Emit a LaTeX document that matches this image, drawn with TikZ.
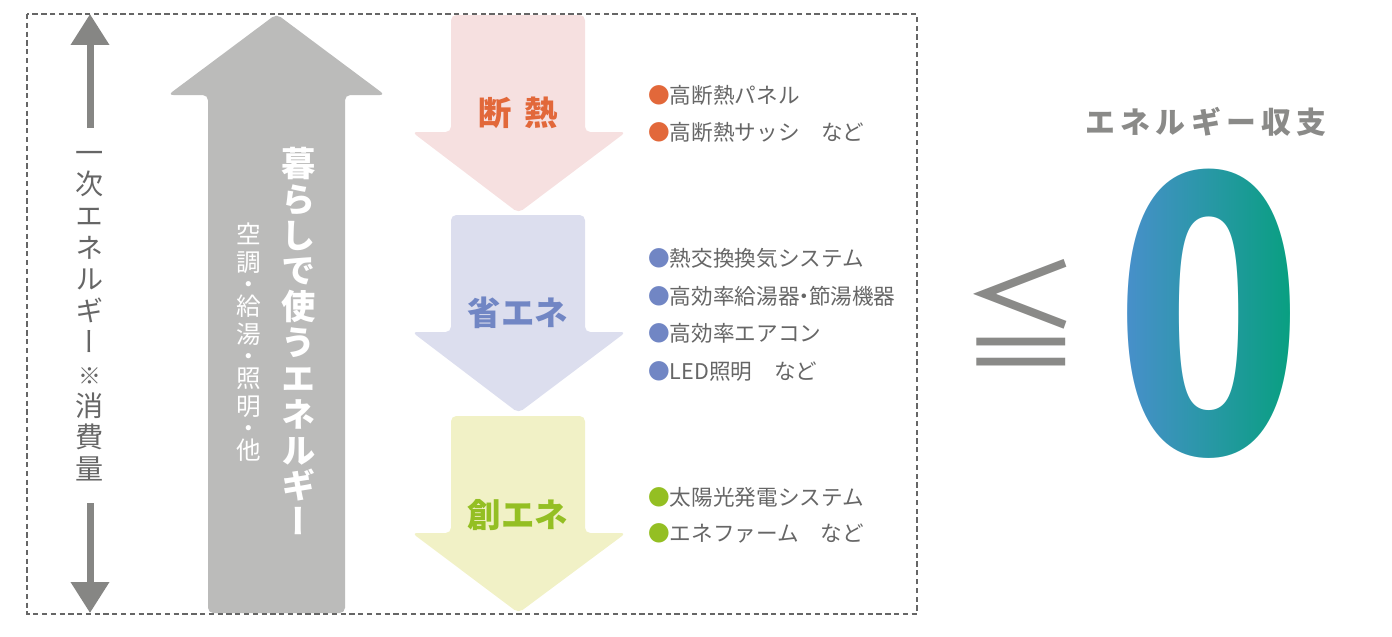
\documentclass[tikz,border=0pt]{standalone}
\usepackage{fontspec}
\setmainfont{Noto Sans CJK JP}
\newfontfamily\jp{Noto Sans CJK JP}
\newfontfamily\jpv[RawFeature=+vert]{Noto Sans CJK JP}
\newfontfamily\jpsp[LetterSpace=18]{Noto Sans CJK JP}
\newfontfamily\zerofont{Fira Sans}
\usetikzlibrary{arrows.meta}
\definecolor{pinkA}{HTML}{F6E0E0}
\definecolor{lavA}{HTML}{DCDEEE}
\definecolor{yelA}{HTML}{F1F1C6}
\definecolor{orT}{HTML}{E2683A}
\definecolor{blT}{HTML}{7186C4}
\definecolor{grT}{HTML}{94BF23}
\definecolor{grayA}{HTML}{BBBBBA}
\definecolor{darkA}{HTML}{868684}
\definecolor{txtgray}{HTML}{666666}
\definecolor{headgray}{HTML}{8A8A88}
\definecolor{zA}{HTML}{4A8FCD}
\definecolor{zB}{HTML}{0A9BC0}
\definecolor{zC}{HTML}{06A07E}
\begin{document}
\begin{tikzpicture}[x=0.02cm,y=-0.02cm,
  downarrow/.style={rounded corners=3pt},
  bigarr/.style={draw=darkA,line width=0.14cm,-{Triangle[width=0.74cm,length=0.62cm]}},
  item/.style={anchor=west,inner sep=0pt,text=txtgray,font=\jp\fontsize{12.3}{14}\selectfont},
  headlbl/.style={inner sep=0pt,font=\jp\bfseries\fontsize{19}{20}\selectfont}]
\useasboundingbox (0,0) rectangle (1392,636);
% big gray arrow
\fill[grayA,rounded corners=3pt] (208,613) -- (208,95) -- (168,95) -- (276.5,14) -- (385,95) -- (345,95) -- (345,613) -- cycle;
\node[inner sep=0pt,text=white,align=center,font=\jpv\bfseries\fontsize{19.5}{20.4}\selectfont] (live) at (299,341)
 {暮\\ら\\し\\で\\使\\う\\エ\\ネ\\ル\\ギ\\ー};
\node[inner sep=0pt,text=white,align=center,font=\jpv\fontsize{14}{15.9}\selectfont] (livesub) at (249,342)
 {空\\調\\[-3.4pt]・\\[-3.4pt]給\\湯\\[-3.4pt]・\\[-3.4pt]照\\明\\[-3.4pt]・\\[-3.4pt]他};
% left arrows and text
\node[inner sep=0pt,text=txtgray,align=center,font=\jpv\fontsize{16}{18}\selectfont] (lefttext) at (90,316)
 {一\\次\\エ\\ネ\\ル\\ギ\\ー\\{\fontsize{13}{18}\selectfont ※}\\消\\費\\量};
\coordinate (la1) at (90,128);
\coordinate (la2) at (90,14);
\coordinate (lb1) at (90,503);
\coordinate (lb2) at (90,613);
\draw[bigarr] (la1) -- (la2);
\draw[bigarr] (lb1) -- (lb2);
% down arrows
\fill[pinkA,downarrow] (451,15) -- (585,15) -- (585,132) -- (626,132) -- (518.5,213) -- (412,132) -- (451,132) -- cycle;
\fill[lavA,downarrow] (451,215) -- (585,215) -- (585,332) -- (626,332) -- (518.5,413) -- (412,332) -- (451,332) -- cycle;
\fill[yelA,downarrow] (451,416) -- (585,416) -- (585,533) -- (626,533) -- (518.5,613) -- (412,533) -- (451,533) -- cycle;
\node[headlbl,text=orT] (dan) at (518,113) {断\hspace{7pt}熱};
\node[headlbl,text=blT] (sho) at (518,313) {省エネ};
\node[headlbl,text=grT] (so) at (518,515) {創エネ};
% bullet items
\node[item] (b1) at (648,95) {{\color{orT}●}高断熱パネル};
\node[item] (b2) at (648,132) {{\color{orT}●}高断熱サッシ　など};
\node[item] (b3) at (648,258) {{\color{blT}●}熱交換換気システム};
\node[item] (b4) at (648,296) {{\color{blT}●}高効率給湯器\kern-0.28em・\kern-0.28em節湯機器};
\node[item] (b5) at (648,333) {{\color{blT}●}高効率エアコン};
\node[item] (b6) at (648,371) {{\color{blT}●}LED照明　など};
\node[item] (b7) at (648,497) {{\color{grT}●}太陽光発電システム};
\node[item] (b8) at (648,533) {{\color{grT}●}エネファーム　など};
% dashed frame
\draw[txtgray,line width=0.7pt,dash pattern=on 3pt off 2pt] (27,14) rectangle (917,614);
% right side
\node[inner sep=0pt,text=headgray,font=\jpsp\bfseries\fontsize{17}{18}\selectfont] (bal) at (1206,122) {エネルギー収支};
\node[inner sep=0pt,text=headgray,font=\jp\fontsize{68}{68}\selectfont] (leq) at (1021,313) {≦};
\fill[white] (1095,145) rectangle (1322,482);
\node[inner sep=0pt,text=black,font=\zerofont\bfseries\fontsize{233}{233}\selectfont] (zero) at (1208.5,313.5) {\scalebox{0.78}[1]{0}};
\shade[blend mode=screen,left color=zA,middle color=zB,right color=zC] (1120,160) rectangle (1297,467);
\end{tikzpicture}
\end{document}
